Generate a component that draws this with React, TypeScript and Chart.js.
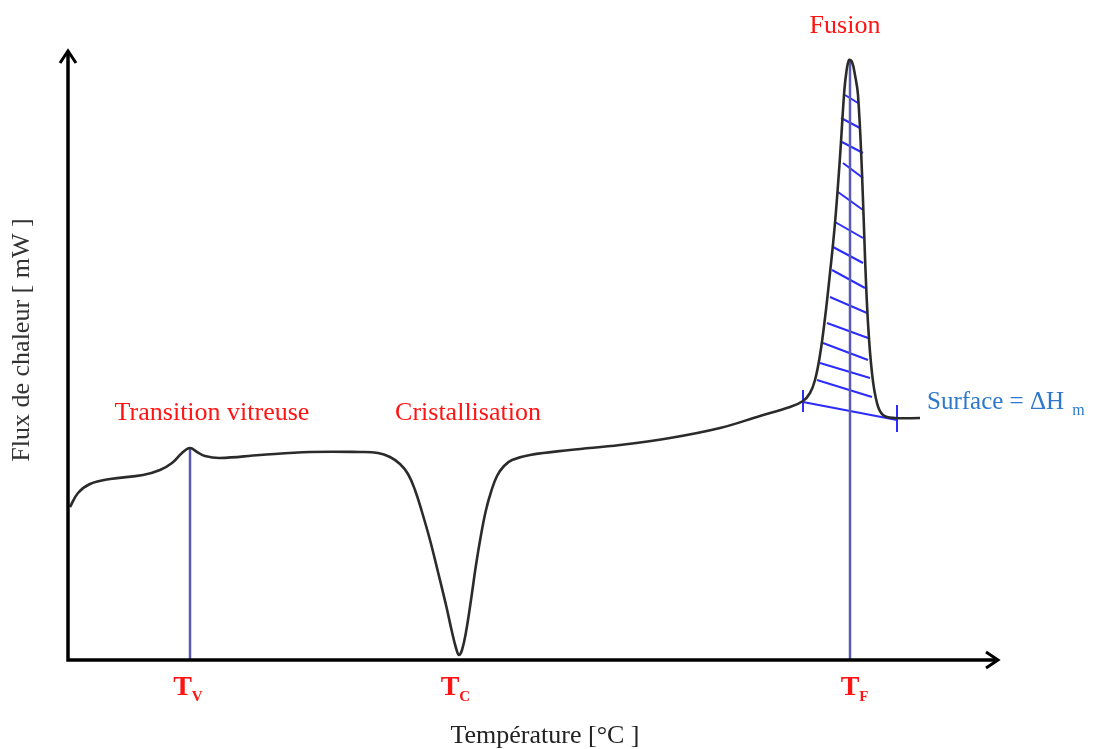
import React, { useEffect, useRef } from "react";
import { Chart, registerables } from "chart.js";

Chart.register(...registerables);

// DSC curve (temperature units arbitrary, heat flow arbitrary)
const curveX = [0.2, 1.0, 2.2, 4.2, 7.5, 9.2, 10.4, 11.4, 12.2, 12.9, 13.7, 15.2, 19.2, 24.2, 29.2, 31.0, 32.2, 33.2, 34.0, 34.7, 35.4, 36.2, 37.0, 37.8, 38.4, 38.8, 39.1, 39.4, 39.8, 40.3, 40.8, 41.3, 41.8, 42.3, 42.9, 43.6, 44.4, 46.2, 50.2, 55.2, 60.2, 65.2, 69.2, 72.2, 73.5, 74.2, 74.7, 75.2, 75.7, 76.2, 76.7, 77.2, 77.6, 77.8, 78.1, 78.4, 78.7, 79.0, 79.4, 79.7, 80.0, 80.4, 80.9, 81.5, 82.7, 85.2];
const curveY = [15.3, 16.7, 17.6, 18.1, 18.5, 19.0, 19.7, 20.7, 21.2, 20.8, 20.4, 20.2, 20.5, 20.8, 20.8, 20.7, 20.3, 19.6, 18.6, 17.0, 14.8, 12.0, 8.8, 5.5, 2.8, 1.2, 0.5, 1.0, 2.8, 6.0, 9.5, 12.5, 15.0, 16.8, 18.4, 19.4, 20.0, 20.5, 21.0, 21.5, 22.2, 23.2, 24.4, 25.3, 25.9, 26.7, 28.0, 30.5, 34.2, 38.7, 43.7, 50.3, 56.5, 58.5, 60.0, 59.8, 58.5, 56.5, 48.7, 40.3, 33.7, 28.7, 25.7, 24.5, 24.2, 24.2];

// hatch segments inside the fusion peak
const hatchX1 = [77.7, 77.3, 77.4, 77.5, 77.0, 76.7, 76.5, 76.4, 76.2, 75.9, 75.5, 75.2, 74.9];
const hatchY1 = [56.5, 54.2, 51.8, 49.7, 46.8, 43.8, 41.3, 39.0, 36.3, 33.7, 31.7, 29.7, 28.0];
const hatchX2 = [79.0, 79.2, 79.5, 79.5, 79.5, 79.5, 79.5, 79.7, 79.9, 80.0, 80.0, 80.2, 80.4];
const hatchY2 = [55.7, 53.2, 50.7, 48.2, 45.0, 42.2, 39.7, 37.2, 34.7, 32.2, 30.0, 28.2, 26.3];

// integration baseline and its end ticks
const baselineX = [73.5, 82.9];
const baselineY = [25.8, 24.0];
const tickX = [73.5, 82.9];
const tickYTop = [27.0, 25.5];
const tickYBottom = [24.8, 22.8];

// vertical markers (Tv, Tf)
const markerX = [12.2, 78.2];
const markerTop = [21.2, 60.0];

// phase labels
const phaseLabels = ["Transition vitreuse", "Cristallisation", "Fusion"];
const phaseX = [14.4, 40.0, 77.7];
const phaseY = [24.0, 24.0, 62.7];

// temperature labels
const tempSubs = ["V", "C", "F"];
const tempLabelX = [11.45, 38.2, 78.2];
const tempLabelY = -3.5;

const surfaceText = "Surface = \u0394H";
const surfaceSub = "m";
const surfaceX = 85.9;
const surfaceY = 25.1;

const xTitle = "Température [°C ]";
const yTitle = "Flux de chaleur [ mW ]";

const RED = "#ff1414";
const SERIF = "'Liberation Serif', 'DejaVu Serif', serif";

const pts = (xs: number[], ys: number[]) => xs.map((x, i) => ({ x, y: ys[i] }));

const overlay = {
  id: "dscOverlay",
  afterDatasetsDraw(chart: any) {
    const ctx = chart.ctx as CanvasRenderingContext2D;
    const xs = chart.scales.x;
    const ys = chart.scales.y;
    const ca = chart.chartArea;
    ctx.save();

    // axes with arrows
    ctx.strokeStyle = "#000";
    ctx.lineWidth = 3.5;
    ctx.lineJoin = "miter";
    ctx.beginPath();
    ctx.moveTo(ca.left, ca.top + 3);
    ctx.lineTo(ca.left, ca.bottom);
    ctx.lineTo(ca.right - 3, ca.bottom);
    ctx.stroke();
    ctx.lineWidth = 3;
    ctx.beginPath();
    ctx.moveTo(ca.left - 8, ca.top + 12);
    ctx.lineTo(ca.left, ca.top);
    ctx.lineTo(ca.left + 8, ca.top + 12);
    ctx.stroke();
    ctx.beginPath();
    ctx.moveTo(ca.right - 12, ca.bottom - 8);
    ctx.lineTo(ca.right, ca.bottom);
    ctx.lineTo(ca.right - 12, ca.bottom + 8);
    ctx.stroke();

    // phase labels
    ctx.fillStyle = RED;
    ctx.font = `26px ${SERIF}`;
    ctx.textAlign = "center";
    ctx.textBaseline = "alphabetic";
    phaseLabels.forEach((t, i) => {
      ctx.fillText(t, xs.getPixelForValue(phaseX[i]), ys.getPixelForValue(phaseY[i]));
    });

    // T labels
    tempSubs.forEach((s, i) => {
      const cx = xs.getPixelForValue(tempLabelX[i]);
      const by = ys.getPixelForValue(tempLabelY);
      ctx.font = `bold 28px ${SERIF}`;
      ctx.textAlign = "left";
      const w = ctx.measureText("T").width;
      ctx.fillText("T", cx - w / 2, by);
      ctx.font = `bold 15px ${SERIF}`;
      ctx.fillText(s, cx + w / 2, by + 6);
    });

    // surface label
    ctx.fillStyle = "#2d78cc";
    ctx.font = `25px ${SERIF}`;
    ctx.textAlign = "left";
    const sx = xs.getPixelForValue(surfaceX);
    const sy = ys.getPixelForValue(surfaceY);
    ctx.fillText(surfaceText, sx, sy);
    const sw = ctx.measureText(surfaceText + " ").width;
    ctx.font = `16px ${SERIF}`;
    ctx.fillText(surfaceSub, sx + sw + 2, sy + 6);

    // axis titles
    ctx.fillStyle = "#222";
    ctx.font = `26px ${SERIF}`;
    ctx.textAlign = "center";
    ctx.fillText(xTitle, 545, 743);
    ctx.save();
    ctx.fillStyle = "#333";
    ctx.translate(22, 340);
    ctx.rotate(-Math.PI / 2);
    ctx.textBaseline = "middle";
    ctx.fillText(yTitle, 0, 0);
    ctx.restore();

    ctx.restore();
  },
};

export default function App() {
  const ref = useRef<HTMLCanvasElement>(null);

  useEffect(() => {
    if (!ref.current) return;
    const datasets: any[] = [];
    datasets.push({
      data: pts(curveX, curveY),
      borderColor: "#2b2b2b",
      borderWidth: 2.6,
      tension: 0.4,
      order: 0,
    });
    markerX.forEach((x, i) => {
      datasets.push({
        data: [{ x, y: 0 }, { x, y: markerTop[i] }],
        borderColor: "#5a5ab4",
        borderWidth: 2.5,
        order: 1,
      });
    });
    hatchX1.forEach((x, i) => {
      datasets.push({
        data: [{ x, y: hatchY1[i] }, { x: hatchX2[i], y: hatchY2[i] }],
        borderColor: "#2c2cff",
        borderWidth: 2,
        order: 2,
      });
    });
    datasets.push({
      data: pts(baselineX, baselineY),
      borderColor: "#2c2cff",
      borderWidth: 2.2,
      order: 2,
    });
    tickX.forEach((x, i) => {
      datasets.push({
        data: [{ x, y: tickYBottom[i] }, { x, y: tickYTop[i] }],
        borderColor: "#2c2cff",
        borderWidth: 2,
        order: 2,
      });
    });
    datasets.forEach((d) => {
      d.showLine = true;
      d.pointRadius = 0;
      d.pointHoverRadius = 0;
      d.fill = false;
      d.clip = false;
    });

    const chart = new Chart(ref.current, {
      type: "scatter",
      data: { datasets },
      options: {
        responsive: false,
        animation: false,
        devicePixelRatio: 1,
        layout: { padding: { left: 68, right: 101, top: 51, bottom: 89 } },
        scales: {
          x: { type: "linear", min: 0, max: 93, display: false },
          y: { type: "linear", min: 0, max: 60.9, display: false },
        },
        plugins: { legend: { display: false }, tooltip: { enabled: false } },
      },
      plugins: [overlay],
    } as any);
    return () => chart.destroy();
  }, []);

  return (
    <div style={{ position: "fixed", left: 0, top: 0, width: 1099, height: 749, background: "#fff" }}>
      <canvas ref={ref} width={1099} height={749} />
    </div>
  );
}
